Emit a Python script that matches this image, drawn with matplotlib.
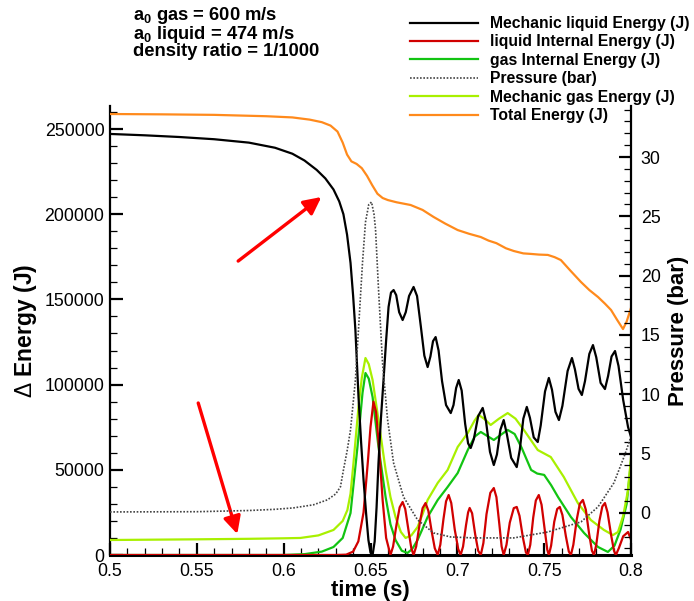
import matplotlib
matplotlib.use("Agg")
import matplotlib.pyplot as plt
from matplotlib.ticker import MultipleLocator, FormatStrFormatter, FuncFormatter

plt.rcParams["font.family"] = ["Liberation Sans", "DejaVu Sans"]
plt.rcParams["mathtext.fontset"] = "custom"
plt.rcParams["mathtext.rm"] = "Liberation Sans"
plt.rcParams["mathtext.bf"] = "Liberation Sans:bold"

# --- energies (J) on the left axis, pressure (bar) on the right axis ---
t_mech_liq = [0.500, 0.520, 0.540, 0.560, 0.580, 0.595, 0.605, 0.612, 0.619, 0.624,
              0.6287, 0.6320, 0.6344, 0.6365, 0.6385, 0.6400, 0.6413, 0.6431, 0.6446, 0.6460,
              0.6475, 0.6488, 0.6500, 0.6512, 0.6524, 0.6535, 0.6546, 0.6560, 0.6575, 0.6590,
              0.6604, 0.6618, 0.6633, 0.6648, 0.6665, 0.6685, 0.6703, 0.6722, 0.6748, 0.6768,
              0.6790, 0.6810, 0.6829, 0.6845, 0.6860, 0.6875, 0.6892, 0.6912, 0.6935, 0.6962,
              0.6978, 0.6993, 0.7008, 0.7025, 0.7045, 0.7062, 0.7077, 0.7095, 0.7120, 0.7146,
              0.7165, 0.7188, 0.7210, 0.7228, 0.7248, 0.7267, 0.7285, 0.7310, 0.7342, 0.7360,
              0.7380, 0.7400, 0.7418, 0.7440, 0.7463, 0.7480, 0.7505, 0.7527, 0.7545, 0.7565,
              0.7585, 0.7605, 0.7635, 0.7660, 0.7677, 0.7698, 0.7717, 0.7735, 0.7760, 0.7781,
              0.7800, 0.7825, 0.7850, 0.7868, 0.7888, 0.7908, 0.7928, 0.7955, 0.7983, 0.8000]
e_mech_liq = [247100, 246300, 245300, 244000, 242000, 239000, 235500, 231500, 226000, 221000,
              214500, 207500, 200000, 188000, 171400, 152000, 132100, 92700, 66000, 44000,
              24000, 8800, 1500, 0, 8000, 28000, 54000, 80000, 102700, 126000,
              145600, 154000, 155500, 152500, 142500, 137900, 142500, 152000, 157300, 152000,
              134000, 117000, 110300, 116500, 125500, 127900, 120000, 102000, 88000, 83300,
              88000, 98000, 102700, 96500, 77000, 65500, 62800, 68000, 81500, 86300,
              78500, 60500, 52800, 59000, 73500, 79200, 71000, 57000, 51600, 62000,
              80000, 86900, 80500, 69000, 66300, 76000, 96000, 103900, 97000, 84000,
              79200, 87500, 108000, 115600, 109000, 97500, 93900, 102000, 118000, 123200,
              116000, 101000, 97400, 105000, 116500, 119700, 111000, 91000, 75100, 69300]

t_int_liq = [0.500, 0.630, 0.636, 0.640, 0.6430, 0.6460, 0.6485, 0.6500, 0.6517, 0.6532,
             0.6550, 0.6570, 0.6590, 0.6615, 0.6630, 0.6650, 0.6668, 0.6685, 0.6700, 0.6718,
             0.6735, 0.6748, 0.6763, 0.6785, 0.6800, 0.6817, 0.6833, 0.6852, 0.6870, 0.6887,
             0.6902, 0.6920, 0.6935, 0.6950, 0.6965, 0.6985, 0.7005, 0.7019, 0.7033, 0.7050,
             0.7062, 0.7071, 0.7085, 0.7103, 0.7120, 0.7135, 0.7150, 0.7168, 0.7190, 0.7210,
             0.7225, 0.7242, 0.7255, 0.7267, 0.7283, 0.7302, 0.7325, 0.7342, 0.7358, 0.7378,
             0.7395, 0.7406, 0.7420, 0.7437, 0.7452, 0.7469, 0.7485, 0.7503, 0.7518, 0.7527,
             0.7540, 0.7558, 0.7575, 0.7590, 0.7605, 0.7625, 0.7642, 0.7654, 0.7668, 0.7688,
             0.7705, 0.7723, 0.7740, 0.7758, 0.7775, 0.7787, 0.7800, 0.7818, 0.7835, 0.7850,
             0.7865, 0.7885, 0.7902, 0.7913, 0.7930, 0.7955, 0.7983, 0.8000]
e_int_liq = [0, 0, 200, 2000, 8000, 25000, 55000, 75000, 90000, 84000,
             62000, 32000, 10000, 0, 5000, 18000, 28000, 31100, 27000, 15000,
             4000, 0, 5000, 19500, 27500, 30500, 26000, 14000, 4000, 0,
             6000, 21000, 31500, 35200, 30500, 15000, 3500, 0, 5000, 17500,
             25000, 27600, 24500, 12000, 2500, 0, 7000, 24000, 36500, 39300,
             34000, 18000, 5000, 0, 6000, 19000, 27500, 28200, 23000, 10000,
             1500, 0, 6000, 22000, 32000, 35200, 29500, 15000, 3000, 0,
             5500, 19500, 27000, 28200, 23500, 11000, 2000, 0, 6000, 21000,
             30000, 32300, 26500, 13000, 2500, 0, 6000, 20000, 28500, 30500,
             25000, 12000, 2500, 0, 4000, 11000, 13500, 9000]

t_int_gas = [0.500, 0.600, 0.612, 0.622, 0.6287, 0.634, 0.6385, 0.6425, 0.6454, 0.6471,
             0.6490, 0.6512, 0.6546, 0.6587, 0.6615, 0.6644, 0.6680, 0.6713, 0.6740, 0.6771,
             0.6800, 0.6829, 0.6887, 0.6944, 0.7002, 0.7060, 0.7100, 0.7135, 0.7170, 0.7210,
             0.7250, 0.7290, 0.7330, 0.7370, 0.7425, 0.7460, 0.7500, 0.7540, 0.7580, 0.7654,
             0.7730, 0.7810, 0.7867, 0.7905, 0.7940, 0.7975, 0.8000]
e_int_gas = [0, 0, 500, 2000, 4700, 10000, 24600, 63400, 95100, 106800,
             103500, 92700, 63400, 34000, 18000, 8800, 2500, 1200, 3500, 8800,
             15500, 22300, 32300, 39900, 48100, 61600, 69500, 72200, 70000, 67500,
             70500, 73400, 71000, 63000, 49900, 47800, 47000, 41000, 34000, 22300,
             12900, 4700, 1800, 5500, 15000, 30000, 55000]

t_mech_gas = [0.500, 0.550, 0.580, 0.600, 0.6096, 0.620, 0.6287, 0.6340, 0.6367, 0.6385,
              0.6402, 0.6431, 0.6450, 0.6471, 0.6490, 0.6512, 0.6546, 0.6587, 0.6615, 0.6644,
              0.6675, 0.6702, 0.6735, 0.6771, 0.6800, 0.6829, 0.6887, 0.6944, 0.7002, 0.7060,
              0.7100, 0.7123, 0.7160, 0.7192, 0.7240, 0.7290, 0.7335, 0.7383, 0.7463, 0.7538,
              0.7613, 0.7694, 0.7769, 0.7844, 0.7896, 0.7925, 0.7955, 0.7983, 0.8000]
e_mech_gas = [8800, 9200, 9500, 9800, 10000, 11500, 14700, 20000, 26400, 36000,
              54000, 86900, 104000, 115600, 112000, 102700, 79200, 49900, 34000, 22300,
              13500, 10000, 11500, 16400, 24000, 32300, 42300, 49900, 63400, 71600,
              79000, 82200, 79500, 76300, 80000, 83300, 80000, 73400, 61600, 57500,
              45800, 30500, 20500, 14700, 11700, 13500, 23000, 38100, 57500]

t_total = [0.500, 0.530, 0.560, 0.590, 0.605, 0.615, 0.622, 0.627, 0.631, 0.634,
           0.6365, 0.639, 0.642, 0.645, 0.648, 0.651, 0.654, 0.657, 0.660, 0.665,
           0.6731, 0.680, 0.6863, 0.693, 0.7002, 0.7068, 0.7135, 0.7180, 0.7225, 0.7280,
           0.7325, 0.7380, 0.7423, 0.7470, 0.7521, 0.7560, 0.7596, 0.7650, 0.7712, 0.7760,
           0.7810, 0.7850, 0.7885, 0.7920, 0.7954, 0.7975, 0.8000]
e_total = [258800, 258600, 258300, 257500, 256800, 255500, 254000, 252000, 248500, 242000,
           235000, 231000, 229500, 227000, 222500, 217000, 212000, 209500, 208300, 207000,
           205400, 202500, 198400, 194500, 190700, 188500, 186600, 184500, 183000, 180000,
           178400, 177000, 176700, 176300, 176100, 174800, 173100, 167000, 160200, 155500,
           151400, 147500, 143800, 138000, 132600, 137000, 145000]

t_press = [0.500, 0.550, 0.580, 0.595, 0.6056, 0.6171, 0.6252, 0.6300, 0.6327, 0.6344,
           0.6365, 0.6385, 0.6413, 0.6431, 0.6454, 0.6471, 0.6490, 0.6506, 0.6520, 0.6529,
           0.6546, 0.6569, 0.6598, 0.6633, 0.6690, 0.6771, 0.6863, 0.6962, 0.7094, 0.7325,
           0.7521, 0.7712, 0.7810, 0.7902, 0.7960, 0.8000]
p_press = [0.08, 0.10, 0.20, 0.30, 0.42, 0.68, 1.10, 1.60, 2.20, 3.60,
           5.20, 7.00, 11.2, 15.5, 21.1, 24.5, 26.0, 26.2, 25.2, 23.9,
           18.9, 12.7, 7.90, 4.20, 1.35, -0.59, -1.69, -2.03, -2.11, -2.11,
           -1.61, -0.76, 0.51, 2.54, 4.73, 6.42]

# arrows: (tail time, tail energy) -> (tip time, tip energy)
arrow_tails = [(0.5738, 172500), (0.5508, 89200)]
arrow_tips = [(0.6217, 210100), (0.5733, 12300)]

notes = [r"a$_{\mathbf{0}}$ gas = 600 m/s",
         r"a$_{\mathbf{0}}$ liquid = 474 m/s",
         "density ratio = 1/1000"]

fig = plt.figure(figsize=(6.94, 6.01), dpi=100)
W, H = 694, 601
ax = fig.add_axes([110 / W, 1 - 555 / H, (631 - 110) / W, (555 - 106) / H])
ax2 = ax.twinx()

lw = 1.6
h_ml, = ax.plot(t_mech_liq, e_mech_liq, color="black", lw=lw, zorder=5)
h_il, = ax.plot(t_int_liq, e_int_liq, color="#d10000", lw=lw, zorder=4)
h_ig, = ax.plot(t_int_gas, e_int_gas, color="#12c412", lw=lw, zorder=3)
h_mg, = ax.plot(t_mech_gas, e_mech_gas, color="#a8f000", lw=lw, zorder=3)
h_te, = ax.plot(t_total, e_total, color="#ff8a1c", lw=lw, zorder=3)
h_p, = ax2.plot(t_press, p_press, color="#444444", lw=1.2, ls=(0, (1, 1)))

for tail, tip in zip(arrow_tails, arrow_tips):
    ax.annotate("", xy=tip, xytext=tail,
                arrowprops=dict(arrowstyle="-|>", color="red", lw=2.4,
                                mutation_scale=26, shrinkA=0, shrinkB=0))

ax.set_xlim(0.5, 0.8)
ax.set_ylim(0, 263500)
ax2.set_ylim(-3.55, 34.3)

ax.xaxis.set_major_locator(MultipleLocator(0.05))
ax.xaxis.set_minor_locator(MultipleLocator(0.01))
ax.xaxis.set_major_formatter(FuncFormatter(lambda v, p: f"{v:g}"))
ax.yaxis.set_major_locator(MultipleLocator(50000))
ax.yaxis.set_minor_locator(MultipleLocator(10000))
ax.yaxis.set_major_formatter(FormatStrFormatter("%d"))
ax2.yaxis.set_major_locator(MultipleLocator(5))
ax2.yaxis.set_minor_locator(MultipleLocator(1))
ax2.yaxis.set_major_formatter(FormatStrFormatter("%d"))

for a in (ax, ax2):
    a.spines["top"].set_visible(False)
    for s in a.spines.values():
        s.set_linewidth(1.6)
ax.spines["right"].set_visible(False)
ax.spines["bottom"].set_linewidth(2.2)
ax2.spines["left"].set_visible(False)
ax2.spines["bottom"].set_visible(False)

ax.tick_params(which="major", direction="in", length=9, width=1.6, labelsize=12.8, pad=4)
ax.tick_params(axis="x", which="major", pad=6)
ax.tick_params(which="minor", direction="in", length=5, width=0.9)
ax.tick_params(which="both", top=False, right=False)
ax2.tick_params(which="major", direction="in", length=9, width=1.6, labelsize=12.8, pad=7)
ax2.tick_params(which="minor", direction="in", length=5, width=0.9)

ax.set_xlabel("time (s)", fontsize=16, fontweight="bold", labelpad=0)
ax.set_ylabel(r"$\Delta$ Energy (J)", fontsize=16.5, fontweight="bold", labelpad=4)
ax2.set_ylabel("Pressure (bar)", fontsize=16, fontweight="bold", labelpad=5)

# case parameters, one tightly stacked block
fig.text(133 / W, 1 - 5 / H, "\n".join(notes), fontsize=13.2, fontweight="bold",
         ha="left", va="top", linespacing=0.86)

fig.legend([h_ml, h_il, h_ig, h_p, h_mg, h_te],
           ["Mechanic liquid Energy (J)", "liquid Internal Energy (J)",
            "gas Internal Energy (J)", "Pressure (bar)",
            "Mechanic gas Energy (J)", "Total Energy (J)"],
           loc="upper left", bbox_to_anchor=(410 / W, 1 - 16 / H), frameon=False,
           prop={"size": 11.3, "weight": "bold"}, handlelength=4.35, handletextpad=0.75,
           labelspacing=0.22, borderaxespad=0, borderpad=0)

fig.savefig("out.png", dpi=100)
